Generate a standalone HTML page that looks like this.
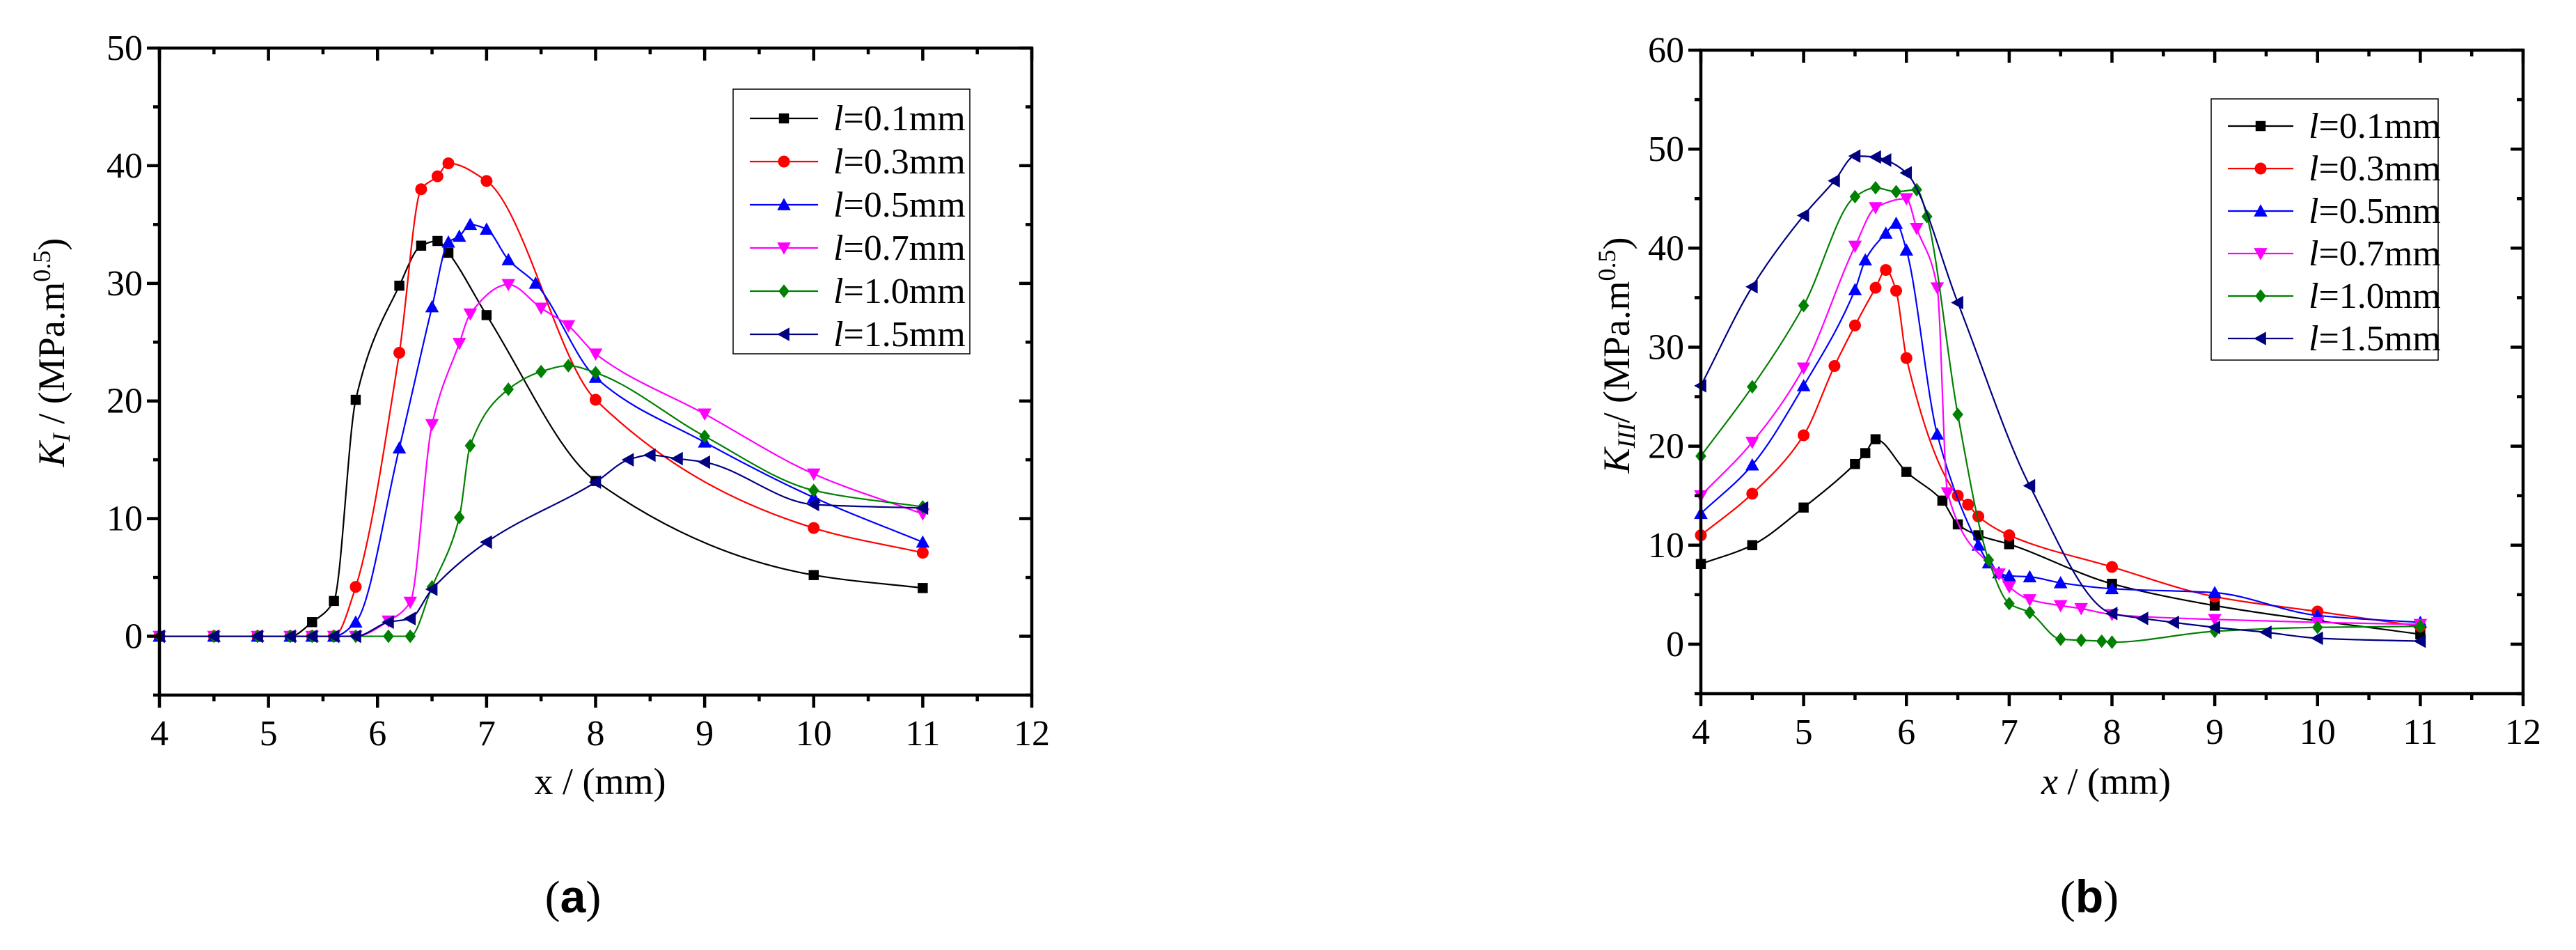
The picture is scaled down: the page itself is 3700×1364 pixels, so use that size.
<!DOCTYPE html>
<html><head><meta charset="utf-8"><style>
html,body{margin:0;padding:0;background:#fff}
svg{display:block}
svg, text, tspan{font-family:"Liberation Serif","Times New Roman",serif;fill:#000}
</style></head><body>
<svg id="fig" width="3700" height="1364" viewBox="0 0 3700 1364" xmlns="http://www.w3.org/2000/svg" font-family="Liberation Serif, serif">
<g id="pa"></g>
<g id="pb"></g>
<text x="823" y="1310" font-size="66" text-anchor="middle" font-family="Liberation Serif, serif">(<tspan font-weight="bold" style="font-family:'Liberation Sans',sans-serif">a</tspan>)</text>
<text x="3001" y="1310" font-size="66" text-anchor="middle" font-family="Liberation Serif, serif">(<tspan font-weight="bold" style="font-family:'Liberation Sans',sans-serif">b</tspan>)</text>
</svg>
<script>
const labels = ["0.1","0.3","0.5","0.7","1.0","1.5"];
const colors = ["#000000","#ff0000","#0000ff","#ff00ff","#008000","#000080"];
const markers = ["square","circle","up","down","diamond","left"];
const xTicks = [4,5,6,7,8,9,10,11,12];
const yTicksA = [0,10,20,30,40,50];
const yTicksB = [0,10,20,30,40,50,60];

const aX01 = [4,4.5,4.9,5.2,5.4,5.6,5.8,6.2,6.4,6.55,6.65,7,8,10,11];
const aY01 = [0,0,0,0,1.2,3,20.1,29.8,33.2,33.6,32.6,27.3,13.2,5.2,4.1];
const aX03 = [4,4.5,4.9,5.2,5.4,5.6,5.8,6.2,6.4,6.55,6.65,7,8,10,11];
const aY03 = [0,0,0,0,0,0,4.2,24.1,38,39.1,40.2,38.7,20.1,9.2,7.1];
const aX05 = [4,4.5,4.9,5.2,5.4,5.6,5.8,6.2,6.5,6.65,6.75,6.85,7,7.2,7.45,8,9,10,11];
const aY05 = [0,0,0,0,0,0,1.2,16,28,33.5,34,35,34.6,32,30,22,16.5,11.8,8];
const aX07 = [4,4.5,4.9,5.2,5.4,5.6,5.8,6.1,6.3,6.5,6.75,6.85,7.2,7.5,7.75,8,9,10,11];
const aY07 = [0,0,0,0,0,0,0,1.3,2.9,18,24.9,27.4,29.9,27.9,26.4,24,18.9,13.8,10.4];
const aX10 = [4,4.5,4.9,5.2,5.4,5.6,5.8,6.1,6.3,6.5,6.75,6.85,7.2,7.5,7.75,8,9,10,11];
const aY10 = [0,0,0,0,0,0,0,0,0,4.2,10.1,16.2,21,22.5,23,22.4,17,12.4,11];
const aX15 = [4,4.5,4.9,5.2,5.4,5.6,5.8,6.1,6.3,6.5,7,8,8.3,8.5,8.75,9,10,11];
const aY15 = [0,0,0,0,0,0,0,1.2,1.5,4,8,13.1,15,15.4,15.1,14.8,11.2,10.9];

const bX01 = [4,4.5,5,5.5,5.6,5.7,6,6.35,6.5,6.7,7,8,9,11];
const bY01 = [8.1,10,13.8,18.2,19.3,20.7,17.4,14.5,12.1,11,10.1,6.1,3.9,1];
const bX03 = [4,4.5,5,5.3,5.5,5.7,5.8,5.9,6,6.5,6.6,6.7,7,8,9,10,11];
const bY03 = [11,15.2,21.1,28.1,32.2,36,37.8,35.7,28.9,15,14.1,12.9,11,7.8,4.8,3.3,1.8];
const bX05 = [4,4.5,5,5.5,5.6,5.8,5.9,6,6.3,6.7,6.8,6.9,7,7.2,7.5,8,9,10,11];
const bY05 = [13.2,18.1,26.1,35.8,38.8,41.5,42.5,39.8,21.2,10,8.2,7.2,6.9,6.8,6.2,5.6,5.2,2.9,2.2];
const bX07 = [4,4.5,5,5.5,5.7,6,6.1,6.3,6.4,6.9,7,7.2,7.5,7.7,8,9,10,11];
const bY07 = [15,20.4,27.9,40.2,44.1,45,42,36,15.3,7.1,5.8,4.5,3.9,3.6,3,2.5,2.2,2];
const bX10 = [4,4.5,5,5.5,5.7,5.9,6.1,6.2,6.5,6.8,7,7.2,7.5,7.7,7.9,8,9,10,11];
const bY10 = [19,26,34.2,45.2,46.1,45.7,45.9,43.2,23.2,8.5,4.1,3.2,0.5,0.4,0.3,0.2,1.3,1.7,1.8];
const bX15 = [4,4.5,5,5.3,5.5,5.7,5.8,6,6.5,7.2,8,8.3,8.6,9,9.5,10,11];
const bY15 = [26.1,36.1,43.3,46.8,49.3,49.2,48.9,47.6,34.5,16,3.1,2.6,2.2,1.7,1.2,0.6,0.3];

const NS = "http://www.w3.org/2000/svg";
function mk(parent, tag, attrs){
  const e = document.createElementNS(NS, tag);
  for (const k in attrs) e.setAttribute(k, attrs[k]);
  parent.appendChild(e); return e;
}
function markerEl(g, type, cx, cy, color, s){
  let e;
  if (type==="square") e = mk(g,"rect",{x:cx-s*0.85,y:cy-s*0.85,width:s*1.7,height:s*1.7,fill:color});
  else if (type==="circle") e = mk(g,"circle",{cx:cx,cy:cy,r:s,fill:color});
  else {
    let p;
    const r=s*1.15;
    if (type==="up") p=[[cx,cy-r],[cx+r,cy+r*0.8],[cx-r,cy+r*0.8]];
    else if (type==="down") p=[[cx,cy+r],[cx+r,cy-r*0.8],[cx-r,cy-r*0.8]];
    else if (type==="diamond") p=[[cx,cy-r],[cx+r*0.8,cy],[cx,cy+r],[cx-r*0.8,cy]];
    else p=[[cx-r,cy],[cx+r*0.8,cy-r],[cx+r*0.8,cy+r]];
    e = mk(g,"polygon",{points:p.map(q=>q.join(",")).join(" "),fill:color});
  }
  return e;
}
function smoothPath(px, py){
  const n=px.length, m=[], s=[];
  for(let i=0;i<n-1;i++) s.push((py[i+1]-py[i])/(px[i+1]-px[i]));
  for(let i=0;i<n;i++){
    if(i===0) m.push(s[0]);
    else if(i===n-1) m.push(s[n-2]);
    else {
      const s1=s[i-1], s2=s[i];
      if (s1*s2<=0) m.push(0);
      else {
        const h1=px[i]-px[i-1], h2=px[i+1]-px[i];
        const w1=2*h2+h1, w2=h2+2*h1;
        m.push((w1+w2)/(w1/s1+w2/s2));
      }
    }
  }
  let d="M"+px[0]+","+py[0];
  for(let i=0;i<n-1;i++){
    const dx=px[i+1]-px[i];
    d+=" C"+(px[i]+dx/3)+","+(py[i]+m[i]*dx/3)+" "+(px[i+1]-dx/3)+","+(py[i+1]-m[i+1]*dx/3)+" "+px[i+1]+","+py[i+1];
  }
  return d;
}

function panel(g, cfg){
  const sx = v => cfg.L + (v-4)/(8)*(cfg.R-cfg.L);
  const sy = v => cfg.B - (v-cfg.ymin)/(cfg.ymax-cfg.ymin)*(cfg.B-cfg.T);
  cfg.series.forEach((s,i)=>{
    const sg = mk(g,"g",{});
    
    
    const px=s[0].map(sx), py=s[1].map(sy);
    const path = mk(sg,"path",{d:smoothPath(px,py),fill:"none",stroke:colors[i],"stroke-width":2.2});
    
    
    for(let k=0;k<px.length;k++){
      const e = markerEl(sg, markers[i], px[k], py[k], colors[i], 8.5);
      
      
    }
  });
  const ax = mk(g,"g",{stroke:"#000","stroke-width":4.5,fill:"none"});
  
  
  mk(ax,"rect",{x:cfg.L,y:cfg.T,width:cfg.R-cfg.L,height:cfg.B-cfg.T});
  for(let v=4; v<=12.001; v+=0.5){
    const x=sx(v), major=Math.abs(v-Math.round(v))<1e-6;
    const len=major?18:9;
    mk(ax,"line",{x1:x,y1:cfg.B,x2:x,y2:cfg.B+len});
    mk(ax,"line",{x1:x,y1:cfg.T,x2:x,y2:cfg.T+len});
  }
  for(let v=cfg.ymin; v<=cfg.ymax+0.001; v+=5){
    const y=sy(v), major=(Math.round(v)%10===0);
    const len=major?18:9;
    mk(ax,"line",{x1:cfg.L,y1:y,x2:cfg.L-len,y2:y});
    mk(ax,"line",{x1:cfg.R,y1:y,x2:cfg.R-len,y2:y});
  }
  xTicks.forEach(v=>{
    const t=mk(g,"text",{x:sx(v),y:cfg.B+72,"font-size":52,"text-anchor":"middle","font-family":"Liberation Serif, serif"});
    t.textContent=v;
    
    
  });
  cfg.yTicks.forEach(v=>{
    const t=mk(g,"text",{x:cfg.L-24,y:sy(v)+17,"font-size":52,"text-anchor":"end","font-family":"Liberation Serif, serif"});
    t.textContent=v;
    
    
  });
  const lg = mk(g,"g",{});
  
  
  mk(lg,"rect",{x:cfg.lx,y:cfg.ly,width:cfg.lw,height:cfg.lh,fill:"#fff",stroke:"#000","stroke-width":1.5});
  labels.forEach((lab,i)=>{
    const y=cfg.ly+cfg.r0+i*cfg.rs;
    const eg = mk(lg,"g",{});
    
    
    mk(eg,"line",{x1:cfg.lx+24,y1:y,x2:cfg.lx+24+cfg.ll,y2:y,stroke:colors[i],"stroke-width":2.2});
    markerEl(eg, markers[i], cfg.lx+24+cfg.ll/2, y, colors[i], 8.5);
    const t=mk(eg,"text",{x:cfg.lx+24+cfg.ll+22,y:y+17,"font-size":52,"font-family":"Liberation Serif, serif"});
    t.innerHTML='<tspan font-style="italic">l</tspan>='+lab+'mm';
  });
}

panel(document.getElementById("pa"),{
  L:229,R:1482,T:69,B:998,ymin:-5,ymax:50,yTicks:yTicksA,
  series:[[aX01,aY01],[aX03,aY03],[aX05,aY05],[aX07,aY07],[aX10,aY10],[aX15,aY15]],
  lx:1053,ly:128,lw:340,lh:380,r0:42,rs:62,ll:98
});
panel(document.getElementById("pb"),{
  L:2443,R:3624,T:72,B:996,ymin:-5,ymax:60,yTicks:yTicksB,
  series:[[bX01,bY01],[bX03,bY03],[bX05,bY05],[bX07,bY07],[bX10,bY10],[bX15,bY15]],
  lx:3176,ly:142,lw:326,lh:375,r0:39,rs:61,ll:94
});

const fig=document.getElementById("fig");
const ya=mk(fig,"text",{transform:"translate(92,506) rotate(-90)","font-size":54,"text-anchor":"middle","font-family":"Liberation Serif, serif"});
ya.innerHTML='<tspan font-style="italic">K<tspan font-size="36" dy="8">I</tspan></tspan><tspan dy="-8"> / (MPa.m</tspan><tspan font-size="36" dy="-20">0.5</tspan><tspan dy="20">)</tspan>';


const yb=mk(fig,"text",{transform:"translate(2340,510) rotate(-90)","font-size":54,"text-anchor":"middle","font-family":"Liberation Serif, serif"});
yb.innerHTML='<tspan font-style="italic">K<tspan font-size="36" dy="8">III</tspan></tspan><tspan dy="-8">/ (MPa.m</tspan><tspan font-size="36" dy="-20">0.5</tspan><tspan dy="20">)</tspan>';


const xa=mk(fig,"text",{x:862,y:1140,"font-size":54,"text-anchor":"middle","font-family":"Liberation Serif, serif"});
xa.textContent='x / (mm)';


const xb=mk(fig,"text",{x:3025,y:1140,"font-size":54,"text-anchor":"middle","font-family":"Liberation Serif, serif"});
xb.innerHTML='<tspan font-style="italic">x</tspan> / (mm)';


</script>
</body></html>
